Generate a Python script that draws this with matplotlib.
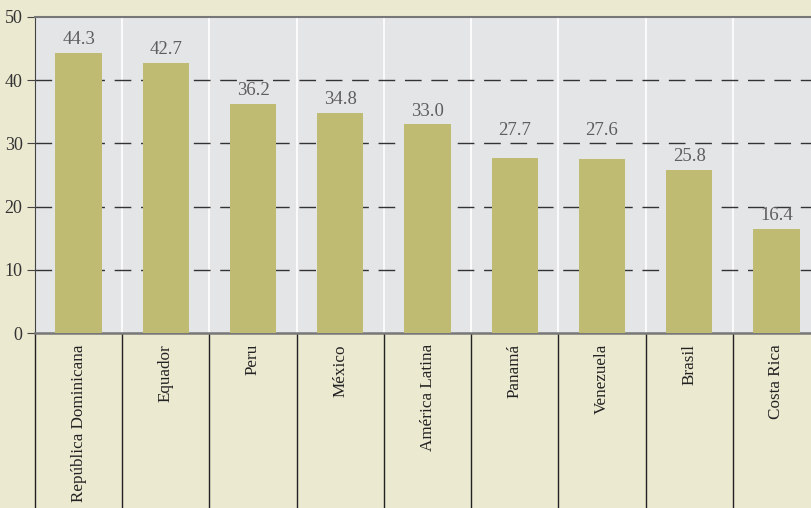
import numpy as np
from matplotlib import pyplot as plt

# valores
paises = ["República Dominicana", "Equador", "Peru", "México", "América Latina",
          "Panamá", "Venezuela", "Brasil", "Costa Rica"]
valores = [44.3, 42.7, 36.2, 34.8, 33.0, 27.7, 27.6, 25.8, 16.4]
yticks = [0, 10, 20, 30, 40, 50]

plt.rcParams['font.family'] = ['Liberation Serif', 'DejaVu Serif']

fig = plt.figure(figsize=(8.11, 5.08), dpi=100, facecolor="#ECE9D1")
ax = fig.add_axes([35/811, (508-333)/508, 785/811, 316/508])
ax.set_facecolor("#E4E5E7")

x = np.arange(len(paises))
ax.bar(x, valores, width=0.53, color="#BFBB72", zorder=3)

# rotulos: se ficarem em cima de uma linha tracejada, sobem para cima dela
for i, v in enumerate(valores):
    base = v
    if v % 10 > 7:
        base = np.ceil(v / 10) * 10
    ax.annotate(f"{v:.1f}", (i, base), xytext=(0, 3.5), textcoords="offset points",
                ha="center", va="bottom", fontsize=13.5, color="#5E5E5E")

ax.set_xlim(-0.5, len(paises) - 0.5)
ax.set_ylim(0, 50)
ax.set_yticks(yticks)
ax.tick_params(axis="y", direction="out", length=6, color="#444444",
               labelsize=13, labelcolor="#333333", pad=3)
ax.set_xticks([])

# linhas horizontais tracejadas
for yv in yticks[1:-1]:
    ax.axhline(yv, color="#333333", lw=1, dashes=(12, 7), zorder=2)

# separadores das categorias
sep = np.arange(len(paises) + 1) - 0.5
for s in sep[1:]:
    ax.axvline(s, color="white", lw=1.2, zorder=1)
ax.vlines(sep, -0.555, 0, transform=ax.get_xaxis_transform(),
          colors="#222222", lw=1, clip_on=False)

for i, nome in enumerate(paises):
    ax.text(i, -0.035, nome, transform=ax.get_xaxis_transform(), rotation=90,
            ha="center", va="top", fontsize=12.3, color="#222222")

ax.spines["right"].set_visible(False)
ax.spines["left"].set_color("#444444")
ax.spines["bottom"].set_color("#777777")
ax.spines["bottom"].set_linewidth(1.8)
ax.spines["top"].set_color("#777777")
ax.spines["top"].set_linewidth(1.5)

fig.savefig("out.png", dpi=100, facecolor=fig.get_facecolor())
